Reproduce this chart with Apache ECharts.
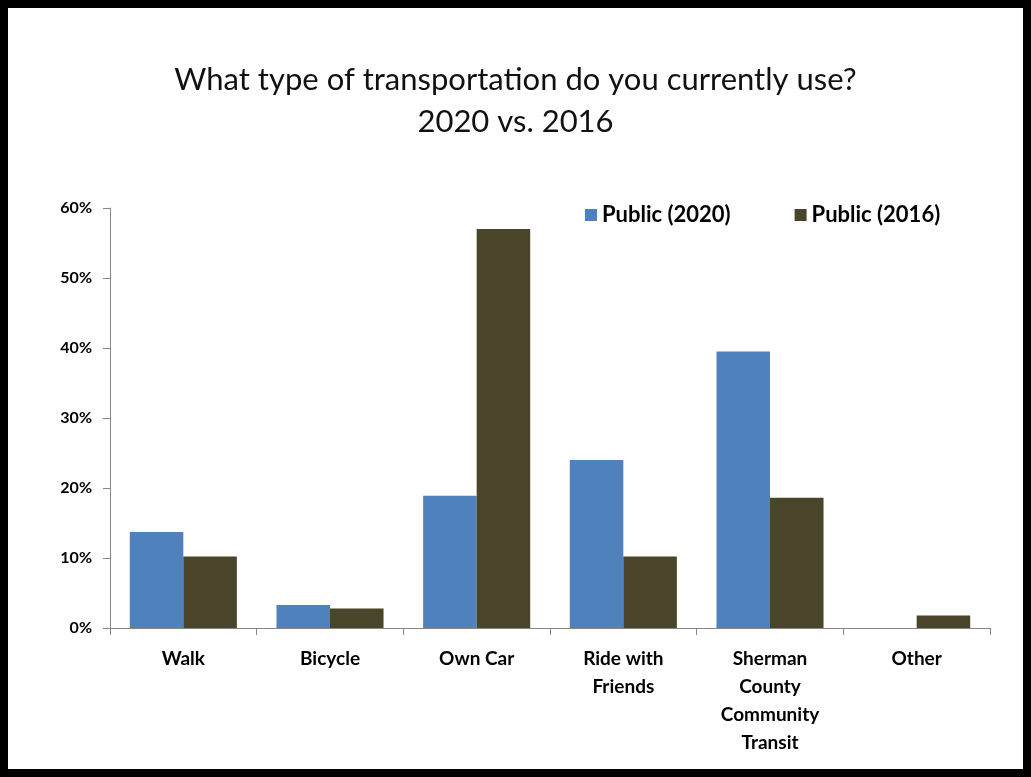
<!DOCTYPE html>
<html>
<head>
<meta charset="utf-8">
<script src="https://cdn.jsdelivr.net/npm/echarts@6/dist/echarts.min.js"></script>
<style>
  html,body{margin:0;padding:0;background:#fff;}
  #frame{width:1031px;height:777px;box-sizing:border-box;border:8px solid #000;position:relative;}
  #chart{position:absolute;left:-8px;top:-8px;width:1031px;height:777px;}
</style>
</head>
<body>
<div id="frame"><div id="chart"></div></div>
<script>
var categories=['Walk','Bicycle','Own Car','Ride with\nFriends','Sherman\nCounty\nCommunity\nTransit','Other'];
var public2020=[13.7,3.3,18.9,24.0,39.5,0];
var public2016=[10.2,2.8,57.0,10.2,18.6,1.8];
var yTicks=[0,10,20,30,40,50,60];

var font='Lato, "Open Sans", sans-serif';
var myChart=echarts.init(document.getElementById('chart'));
var option={
    animation:false,
    title:{
        text:'What type of transportation do you currently use?\n2020 vs. 2016',
        left:'center',
        top:54,
        textStyle:{fontFamily:font,fontSize:31,fontWeight:'normal',color:'#111',lineHeight:42}
    },
    legend:{
        left:580,
        top:199,
        itemWidth:12,
        itemHeight:12,
        itemGap:64,
        icon:'rect',
        textStyle:{fontFamily:font,fontSize:22,fontWeight:'bold',color:'#000'},
        data:['Public (2020)','Public (2016)']
    },
    grid:{left:110,right:41,top:208,bottom:149,containLabel:false},
    xAxis:{
        type:'category',
        data:categories,
        axisLine:{lineStyle:{color:'#868686'}},
        axisTick:{show:true,length:7,lineStyle:{color:'#868686'}},
        axisLabel:{fontFamily:font,fontSize:19,fontWeight:'bold',color:'#000',lineHeight:28,margin:17,interval:0}
    },
    yAxis:{
        type:'value',
        min:yTicks[0],
        max:yTicks[yTicks.length-1],
        interval:10,
        splitLine:{show:false},
        axisLine:{show:true,lineStyle:{color:'#868686'}},
        axisTick:{show:true,length:7,lineStyle:{color:'#868686'}},
        axisLabel:{fontFamily:font,fontSize:16,fontWeight:'bold',color:'#000',margin:18,formatter:'{value}%'}
    },
    series:[
        {name:'Public (2020)',type:'bar',data:public2020,barGap:'0%',barCategoryGap:'27%',itemStyle:{color:'#4F81BD'}},
        {name:'Public (2016)',type:'bar',data:public2016,itemStyle:{color:'#4A442A'}}
    ]
};
myChart.setOption(option);
</script>
</body>
</html>
